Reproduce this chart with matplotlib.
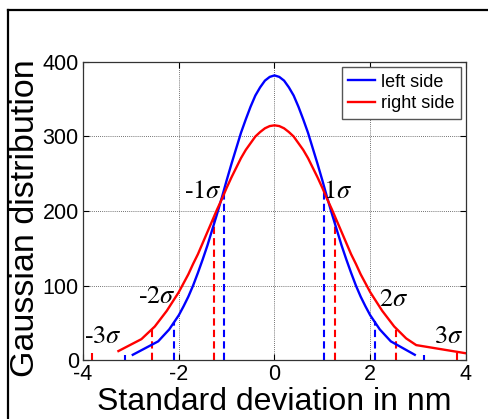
import matplotlib
matplotlib.use("Agg")
import matplotlib.pyplot as plt
from matplotlib.lines import Line2D

plt.rcParams['mathtext.fontset'] = 'stix'

# Curve data
left_x = [-2.96, -2.43, -2.2, -2.0, -1.9, -1.8, -1.7, -1.6, -1.5, -1.4, -1.3, -1.2, -1.1,
          -1.0, -0.9, -0.8, -0.7, -0.6, -0.5, -0.4, -0.3, -0.2, -0.1, 0.0,
          0.1, 0.2, 0.3, 0.4, 0.5, 0.6, 0.7, 0.8, 0.9, 1.0, 1.1, 1.2, 1.3, 1.4,
          1.5, 1.6, 1.7, 1.8, 1.9, 2.0, 2.2, 2.43, 2.93]
left_y = [7, 25, 41, 60, 72, 85, 100, 117, 135, 154, 175, 196, 218,
          241, 263, 284, 305, 323, 340, 355, 366, 375, 380, 382,
          380, 375, 366, 355, 340, 323, 305, 284, 263, 241, 218, 196, 175, 154,
          135, 117, 100, 85, 72, 60, 41, 25, 7]
right_x = [-3.26, -2.78, -2.5, -2.25, -2.0, -1.9, -1.8, -1.7, -1.6, -1.5, -1.4, -1.3, -1.2,
           -1.1, -1.0, -0.9, -0.8, -0.7, -0.6, -0.5, -0.4, -0.3, -0.2, -0.1, 0.0,
           0.1, 0.2, 0.3, 0.4, 0.5, 0.6, 0.7, 0.8, 0.9, 1.0, 1.1, 1.2, 1.3, 1.4,
           1.5, 1.6, 1.7, 1.8, 1.9, 2.0, 2.25, 2.5, 2.75, 2.96, 4.0]
right_y = [12, 28, 45, 66, 91, 103, 115, 129, 142, 157, 172, 187, 202,
           216, 231, 245, 258, 271, 282, 291, 300, 306, 311, 314, 315,
           314, 311, 306, 300, 291, 282, 271, 258, 245, 231, 216, 202, 187, 172,
           157, 142, 129, 115, 103, 91, 66, 45, 29, 20, 9]

# sigma marker positions and heights
left_sig_x = [-3.13, -2.09, -1.05, 1.03, 2.10, 3.13]
left_sig_h = [7, 51, 228, 228, 52, 7]
right_sig_x = [-3.82, -2.55, -1.27, 1.26, 2.53, 3.81]
right_sig_h = [10, 41, 190, 190, 41, 9]

sig_labels = ['-3$\\sigma$', '-2$\\sigma$', '-1$\\sigma$', '1$\\sigma$', '2$\\sigma$', '3$\\sigma$']
sig_label_x = [-3.59, -2.45, -1.49, 1.32, 2.49, 3.64]
sig_label_y = [31, 84, 225, 225, 80, 31]

xticks = [-4, -2, 0, 2, 4]
yticks = [0, 100, 200, 300, 400]

fig = plt.figure(figsize=(4.89, 4.19), dpi=100)
ax = fig.add_axes([83/489, 1-360/419, (466-83)/489, (360-62)/419])

for x, h in zip(left_sig_x, left_sig_h):
    ax.plot([x, x], [0, h], color='blue', lw=1.5, ls=(0, (3.5, 2)))
for x, h in zip(right_sig_x, right_sig_h):
    ax.plot([x, x], [0, h], color='red', lw=1.5, ls=(0, (3.5, 2)))

ax.plot(left_x, left_y, color='blue', lw=1.7, label='left side')
ax.plot(right_x, right_y, color='red', lw=1.7, label='right side')

for t, x, y in zip(sig_labels, sig_label_x, sig_label_y):
    ax.text(x, y, t, ha='center', va='center', fontsize=19, family='STIXGeneral')

ax.set_xlim(-4, 4)
ax.set_ylim(0, 400)
ax.set_xticks(xticks)
ax.set_yticks(yticks)
ax.set_xticklabels([str(v) for v in xticks])
ax.set_yticklabels([str(v) for v in yticks])
ax.tick_params(direction='in', top=True, right=True, length=4, width=0.8,
               labelsize=15.5, pad=3)
for lab in ax.get_xticklabels() + ax.get_yticklabels():
    lab.set_family('Liberation Sans')
ax.grid(True, ls=(0, (1, 1.5)), color='#444444', lw=0.6)
for s in ax.spines.values():
    s.set_color('#333333')
    s.set_linewidth(0.9)

ax.set_xlabel('Standard deviation in nm', fontsize=23, family='Liberation Sans', labelpad=1)
fig.text(26/489, 1-218/419, 'Gaussian distribution', rotation=90, ha='center', va='center',
         fontsize=24.5, family='Liberation Sans')

leg = ax.legend(loc='upper right', prop={'family': 'Liberation Sans', 'size': 13},
                fancybox=False, framealpha=1, edgecolor='#555555',
                handlelength=1.5, handletextpad=0.3, labelspacing=0.25,
                borderpad=0.35, borderaxespad=0.3)
leg.get_frame().set_linewidth(1.0)

# figure border (top and left)
fig.add_artist(Line2D([8/489, 8/489], [0, 1-10/419], color='black', lw=1.6, transform=fig.transFigure))
fig.add_artist(Line2D([8/489, 1], [1-10/419, 1-10/419], color='black', lw=1.6, transform=fig.transFigure))

fig.savefig('out.png', dpi=100)
